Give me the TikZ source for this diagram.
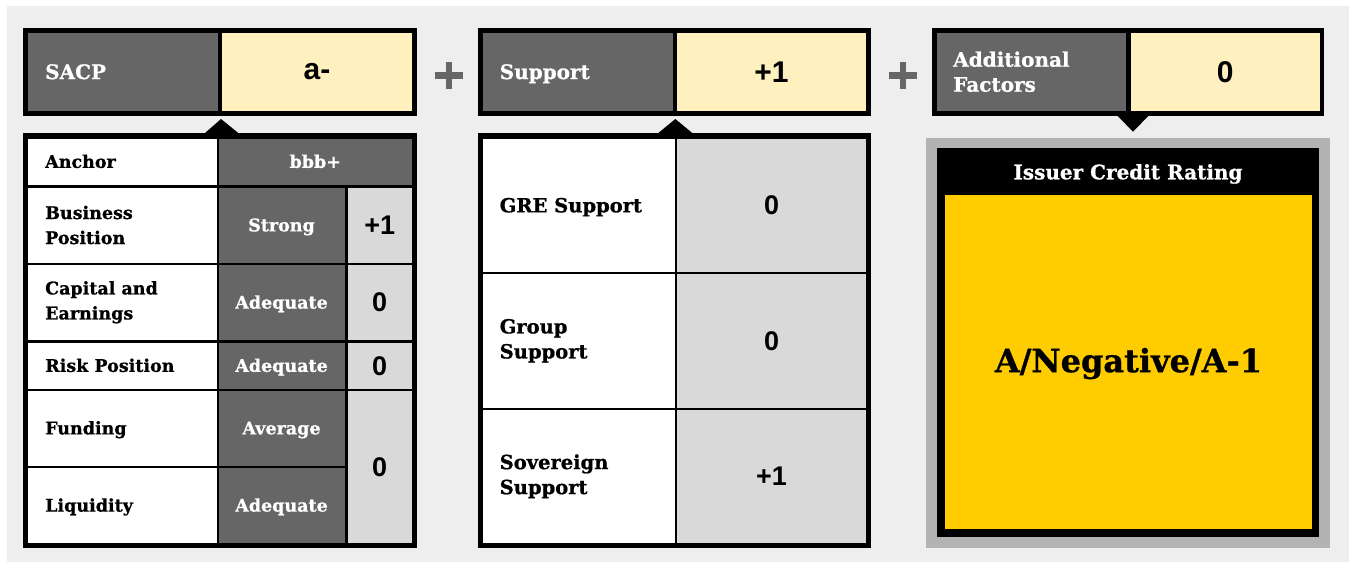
\documentclass[tikz,border=0pt]{standalone}
\usepackage{fontspec}
\setmainfont{DejaVu Serif}[BoldFeatures={FakeBold=0.8}]
\newfontfamily\numfont{Liberation Sans}

\definecolor{bgc}{HTML}{EEEEEE}
\definecolor{darkc}{HTML}{666666}
\definecolor{creamc}{HTML}{FFF0C0}
\definecolor{lightc}{HTML}{D9D9D9}
\definecolor{goldc}{HTML}{FFCC00}
\definecolor{framec}{HTML}{B3B3B3}

% rectangular cell from (x1,y1) to (x2,y2), in pixel-like units
\newcommand\gridcell[7][]{%
  \pgfmathsetmacro\gcW{#5-#3}%
  \pgfmathsetmacro\gcH{#6-#4}%
  \node[cellbox,#1,minimum width=\gcW pt,minimum height=\gcH pt] (#2) at ({(#3+#5)/2},{(#4+#6)/2}) {#7};}

\tikzset{
  cellbox/.style={rectangle,inner sep=0pt,outer sep=0pt,draw=none},
  blackframe/.style={fill=black},
  whitecell/.style={fill=white},
  darkcell/.style={fill=darkc,text=white,font=\bfseries\fontsize{17.5}{25}\selectfont,
    text height=12.75pt,text depth=0pt},
  numcell/.style={fill=lightc,font=\numfont\bfseries\fontsize{27}{32}\selectfont,
    text height=19.3pt,text depth=0pt},
  headdark/.style={fill=darkc},
  headval/.style={fill=creamc,font=\numfont\bfseries\fontsize{30}{36}\selectfont,
    text height=21.5pt,text depth=0pt},
  rowlabel/.style={anchor=west,align=left,inner sep=0pt,
    font=\bfseries\fontsize{17.5}{25}\selectfont},
  oneline/.style={text height=12.75pt,text depth=0pt},
  midlabel/.style={anchor=west,align=left,inner sep=0pt,
    font=\bfseries\fontsize{19.5}{25}\selectfont},
  midone/.style={text height=14.2pt,text depth=0pt},
  headlabel/.style={anchor=west,align=left,inner sep=0pt,text=white,
    font=\bfseries\fontsize{20}{25}\selectfont},
  plusbar/.style={fill=darkc},
  pointer/.style={fill=black},
}

\begin{document}
\begin{tikzpicture}[x=1pt,y=-1pt]
\useasboundingbox (0,0) rectangle (1349,562);
\fill[bgc] (7,6) rectangle (1349,562);

% ---------- SACP ----------
\gridcell[blackframe]{sacpframe}{23}{28}{417}{116}{}
\gridcell[headdark]{sacpname}{28}{33}{218}{110.5}{}
\gridcell[headval,text height=15.6pt]{sacpval}{222}{33}{412}{110.5}{a-}
\node[headlabel,text height=14.6pt,text depth=0pt] (sacplabel) at ([xshift=17pt]sacpname.west) {SACP};
\fill[pointer] (205,133) -- (221,119) -- (238.3,133) -- cycle;

\gridcell[blackframe]{sacptable}{23}{133}{417}{548}{}
% rows
\gridcell[whitecell]{anchorL}{28}{138.5}{216.5}{184.5}{}
\gridcell[darkcell]{anchorV}{218.5}{138.5}{412}{184.5}{bbb+}
\gridcell[whitecell]{busL}{28}{187.5}{216.5}{262.5}{}
\gridcell[darkcell]{busV}{218.5}{187.5}{344.5}{262.5}{Strong}
\gridcell[numcell]{busN}{347.5}{187.5}{412}{262.5}{+1}
\gridcell[whitecell]{capL}{28}{265}{216.5}{339.5}{}
\gridcell[darkcell]{capV}{218.5}{265}{344.5}{339.5}{Adequate}
\gridcell[numcell]{capN}{347.5}{265}{412}{339.5}{0}
\gridcell[whitecell]{riskL}{28}{342.5}{216.5}{388.5}{}
\gridcell[darkcell]{riskV}{218.5}{342.5}{344.5}{388.5}{Adequate}
\gridcell[numcell]{riskN}{347.5}{342.5}{412}{388.5}{0}
\gridcell[whitecell]{fundL}{28}{390.5}{216.5}{465.5}{}
\gridcell[darkcell]{fundV}{218.5}{390.5}{344.5}{465.5}{Average}
\gridcell[whitecell]{liqL}{28}{467.5}{216.5}{543}{}
\gridcell[darkcell]{liqV}{218.5}{467.5}{344.5}{543}{Adequate}
\gridcell[numcell]{fundliqN}{347.5}{390.5}{412}{543}{0}

\node[rowlabel,oneline] (tAnchor) at ([xshift=17pt]anchorL.west) {Anchor};
\node[rowlabel] (tBus) at ([xshift=17pt]busL.west) {Business\\Position};
\node[rowlabel] (tCap) at ([xshift=17pt]capL.west) {Capital and\\Earnings};
\node[rowlabel,oneline] (tRisk) at ([xshift=17pt]riskL.west) {Risk Position};
\node[rowlabel,oneline] (tFund) at ([xshift=17pt]fundL.west) {Funding};
\node[rowlabel,oneline] (tLiq) at ([xshift=17pt]liqL.west) {Liquidity};

% ---------- plus ----------
\fill[plusbar] (435,72.3) rectangle (462.7,79);
\fill[plusbar] (445.7,61.7) rectangle (452.3,89.3);

% ---------- Support ----------
\gridcell[blackframe]{supframe}{478}{28}{871}{116}{}
\gridcell[headdark]{supname}{483}{33}{672.5}{110.5}{}
\gridcell[headval]{supval}{677}{33}{866}{110.5}{+1}
\node[headlabel,text height=14.6pt,text depth=0pt] (suplabel) at ([xshift=16.5pt]supname.west) {Support};
\fill[pointer] (658.3,133) -- (675.3,119) -- (692.3,133) -- cycle;

\gridcell[blackframe]{suptable}{478}{133}{871}{548}{}
\gridcell[whitecell]{greL}{483}{138.5}{674.5}{272}{}
\gridcell[numcell]{greN}{677}{138.5}{866}{272}{0}
\gridcell[whitecell]{grpL}{483}{274}{674.5}{407.5}{}
\gridcell[numcell]{grpN}{677}{274}{866}{407.5}{0}
\gridcell[whitecell]{sovL}{483}{409.5}{674.5}{543}{}
\gridcell[numcell]{sovN}{677}{409.5}{866}{543}{+1}

\node[midlabel,midone] (tGre) at ([xshift=16.5pt]greL.west) {GRE Support};
\node[midlabel] (tGrp) at ([xshift=16.5pt]grpL.west) {Group\\Support};
\node[midlabel] (tSov) at ([xshift=16.5pt]sovL.west) {Sovereign\\Support};

% ---------- plus ----------
\fill[plusbar] (889,72.3) rectangle (916.7,79);
\fill[plusbar] (899.7,61.7) rectangle (906.3,89.3);

% ---------- Additional factors ----------
\gridcell[blackframe]{addframe}{932}{28}{1324}{116}{}
\gridcell[headdark]{addname}{937}{33}{1126}{110.5}{}
\gridcell[headval]{addval}{1130.5}{33}{1320}{110.5}{0}
\node[headlabel] (addlabel) at ([xshift=16pt]addname.west) {Additional\\Factors};
\fill[pointer] (1117.7,116) -- (1133,131.7) -- (1148.3,116) -- cycle;

% ---------- Issuer credit rating ----------
\gridcell[fill=framec]{icrframe}{926}{138}{1330}{547.5}{}
\gridcell[fill=black]{icrbox}{937}{148}{1319}{537}{}
\gridcell[fill=black,text=white,font=\bfseries\fontsize{20}{24}\selectfont,
  text height=14.6pt,text depth=0pt]{icrhead}{937}{150}{1319}{194}{Issuer Credit Rating}
\gridcell[fill=goldc]{icrval}{945}{195}{1312}{529}{}
\node[font=\bfseries\fontsize{32}{38}\selectfont,text height=23.3pt,text depth=0pt,
  inner sep=0pt] (icrrating) at ([yshift=1.5pt]icrval.center) {A/Negative/A-1};
\end{tikzpicture}
\end{document}
